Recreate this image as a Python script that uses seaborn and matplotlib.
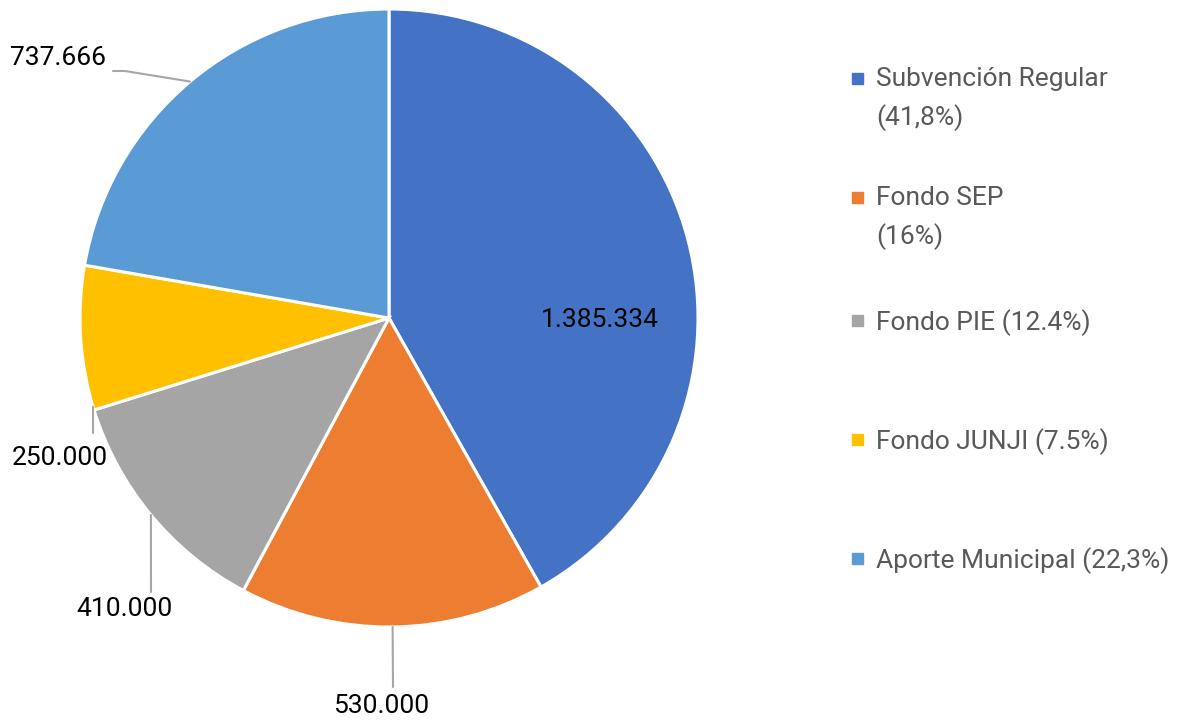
import numpy as np
import matplotlib
matplotlib.use('Agg')
import matplotlib.pyplot as plt
import seaborn as sns

# Datos del gráfico
categorias = ['Subvención Regular\n(41,8%)', 'Fondo SEP\n(16%)', 'Fondo PIE (12.4%)',
              'Fondo JUNJI (7.5%)', 'Aporte Municipal (22,3%)']
valores = [1385334, 530000, 410000, 250000, 737666]
etiquetas = ['1.385.334', '530.000', '410.000', '250.000', '737.666']
colores = ['#4472C4', '#ED7D31', '#A5A5A5', '#FFC000', '#5B9BD5']

sns.set_theme(style='white')
plt.rcParams['font.family'] = ['Roboto', 'DejaVu Sans']

W, H = 1180, 727
cx, cy, R = 389, 318, 309  # centro y radio en píxeles

fig = plt.figure(figsize=(W / 100, H / 100), dpi=100)
ax = fig.add_axes([0, 0, 1, 1])
wedges, _ = ax.pie(valores, colors=colores, startangle=90, counterclock=False, radius=1,
                   wedgeprops=dict(edgecolor='white', linewidth=2.2))
ax.set_xlim(-cx / R, (W - cx) / R)
ax.set_ylim((cy - H) / R, cy / R)
ax.set_aspect('equal')
ax.axis('off')


def px(x, y):
    return (x - cx) / R, (cy - y) / R


# Etiquetas de datos (posición en píxeles, ángulo de la línea guía)
pos_etiquetas = [(600, 320), (381, 706), (124, 609), (60, 458), (58, 58)]
ang_guia = [None, None, None, -163.3, None]
fin_guia = [None, (393, 687), (151, 592), (93, 433), (113, 71)]

for i, w in enumerate(wedges):
    tx, ty = px(*pos_etiquetas[i])
    ax.text(tx, ty, etiquetas[i], ha='center', va='center', fontsize=19, color='black')
    if fin_guia[i] is None:
        continue
    ang = ang_guia[i] if ang_guia[i] is not None else (w.theta1 + w.theta2) / 2
    x0, y0 = np.cos(np.radians(ang)), np.sin(np.radians(ang))
    ex, ey = px(*fin_guia[i])
    if i == 4:
        mx, my = px(125, 71)
        ax.plot([x0, mx, ex], [y0, my, ey], color='#A6A6A6', lw=1.5)
    else:
        ax.plot([x0, ex], [y0, ey], color='#A6A6A6', lw=1.5)

# Leyenda manual
ley_y = [78, 197, 320, 439, 558]
for c, lab, yy in zip(colores, categorias, ley_y):
    fig.patches.append(plt.Rectangle((852 / W, 1 - (yy + 6) / H), 11 / W, 11 / H,
                                     transform=fig.transFigure, color=c))
    fig.text(876 / W, 1 - (yy - 11) / H, lab, ha='left', va='top', fontsize=19,
             color='#595959', linespacing=1.65)

fig.savefig('out.png', dpi=100)
